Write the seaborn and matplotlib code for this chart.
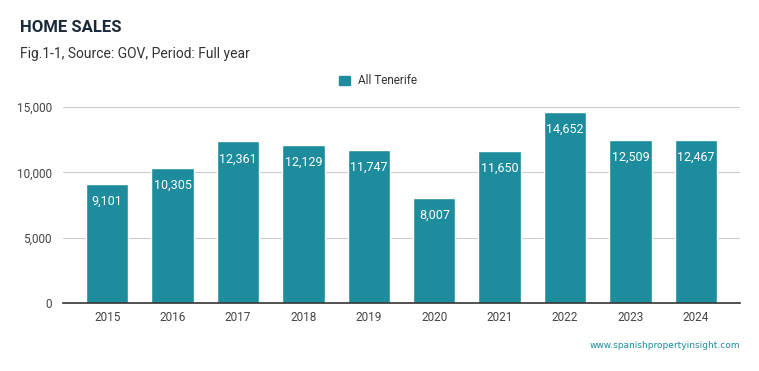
import matplotlib
matplotlib.use("Agg")
import matplotlib.pyplot as plt
import seaborn as sns
import pandas as pd

years = ["2015", "2016", "2017", "2018", "2019", "2020", "2021", "2022", "2023", "2024"]
sales = [9101, 10305, 12361, 12129, 11747, 8007, 11650, 14652, 12509, 12467]
series_name = "All Tenerife"
yticks = [0, 5000, 10000, 15000]

sns.set_theme(style="white")
plt.rcParams['font.family'] = ['Roboto', 'DejaVu Sans']

df = pd.DataFrame({"year": years, "sales": sales, "series": series_name})

fig = plt.figure(figsize=(7.59, 3.71), dpi=100)
ax = fig.add_axes([63/759, 1-303/371, (740-63)/759, (303-107)/371])

color = "#1d8c9d"
sns.barplot(data=df, x="year", y="sales", hue="series", palette=[color],
            width=0.65, ax=ax, legend=False, saturation=1)

ax.set_ylim(0, 15000)
ax.set_xlim(-0.675, 9.675)
ax.set_yticks(yticks)
ax.set_yticklabels([f"{v:,}" for v in yticks])
ax.yaxis.grid(True, color="#cccccc", linewidth=0.8)
ax.set_axisbelow(True)
for s in ["top", "right", "left"]:
    ax.spines[s].set_visible(False)
ax.spines["bottom"].set_color("#333333")
ax.spines["bottom"].set_linewidth(1.2)
ax.tick_params(axis="both", length=0, labelsize=8.5, colors="#444444")
ax.tick_params(axis="x", pad=6)
ax.tick_params(axis="y", pad=8)
ax.set_xlabel("")
ax.set_ylabel("")

for i, v in enumerate(sales):
    ax.annotate(f"{v:,}", (i, v), xytext=(0, -12.5), textcoords="offset points",
                ha="center", va="center", color="white", fontsize=9)

fig.text(20/759, 1-28/371, "HOME SALES", fontsize=12, fontweight="bold",
         color="#1b2a3a", va="center", ha="left")
fig.text(20/759, 1-54/371, "Fig.1-1, Source: GOV, Period: Full year", fontsize=10,
         color="#333333", va="center", ha="left")

# legend
from matplotlib.patches import Patch
handles = [Patch(facecolor=color, edgecolor=color, label=series_name)]
fig.legend(handles=handles, loc="center", bbox_to_anchor=(378/759, 1-81/371),
           frameon=False, fontsize=8.5, handlelength=0.9, handleheight=0.9,
           handletextpad=0.7, labelcolor="#333333")

fig.text(740/759, 1-346/371, "www.spanishpropertyinsight.com", fontsize=6.5,
         family="DejaVu Sans", color="#1d8c9d", ha="right", va="center")

fig.savefig("out.png", dpi=100, facecolor="white")
